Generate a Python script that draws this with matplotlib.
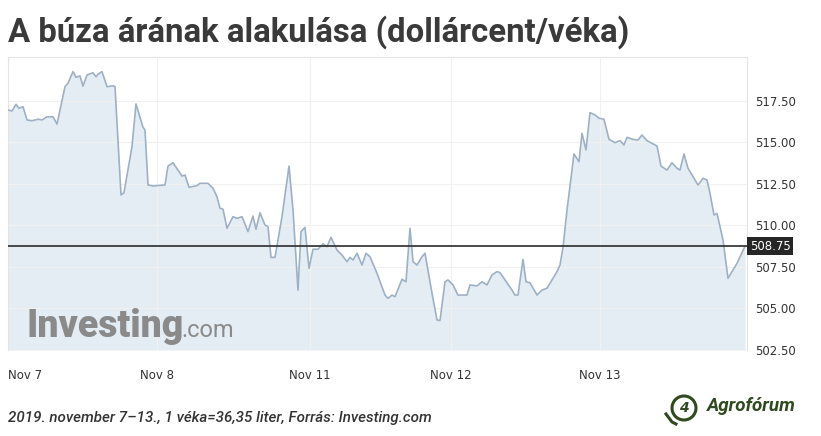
import matplotlib
matplotlib.use("Agg")
import matplotlib.pyplot as plt
import matplotlib.transforms as mtransforms
from matplotlib.patches import Ellipse

# ---- data ----
t_steps = [0, 4, 8, 11, 15, 19, 24, 30, 34, 39, 45, 49, 57, 60, 65, 68, 72, 75, 79, 85,
           88, 90, 94, 99, 105, 107, 113, 116, 124, 128, 135, 137, 140, 145, 157, 160, 165, 174, 177, 181,
           189, 192, 200, 205, 209, 212, 215, 219, 225, 229, 234, 240, 245, 248, 252, 257, 260, 263, 267, 274,
           281, 285, 290, 293, 297, 301, 305, 310, 315, 319, 323, 329, 334, 339, 342, 345, 349, 354, 358, 362,
           369, 377, 380, 384, 387, 394, 398, 402, 405, 409, 414, 417, 424, 429, 432, 437, 440, 445, 450, 459,
           462, 469, 474, 479, 484, 489, 492, 497, 504, 507, 510, 515, 518, 522, 529, 534, 539, 544, 549, 552,
           555, 559, 566, 571, 574, 578, 582, 587, 591, 596, 601, 607, 612, 616, 619, 625, 630, 634, 639, 644,
           649, 653, 659, 664, 669, 672, 676, 680, 686, 690, 695, 699, 702, 706, 709, 715, 720, 729, 737]
prices = [516.96, 516.90, 517.30, 517.06, 517.16, 516.36, 516.31, 516.40, 516.36, 516.55, 516.55, 516.11, 518.36, 518.57, 519.27, 518.93, 519.01, 518.40, 519.07, 519.20,
          518.96, 519.11, 519.27, 518.36, 518.42, 518.36, 511.84, 511.98, 514.75, 517.32, 515.92, 515.75, 512.44, 512.38, 512.44, 513.58, 513.78, 512.98, 513.04, 512.30,
          512.40, 512.54, 512.54, 512.24, 511.73, 511.04, 510.98, 509.83, 510.53, 510.43, 510.53, 509.63, 510.57, 509.77, 510.77, 510.03, 509.93, 508.08, 508.08, 510.53,
          513.58, 510.93, 506.11, 509.63, 509.89, 507.42, 508.57, 508.57, 508.89, 508.72, 509.29, 508.52, 508.22, 507.82, 508.08, 507.92, 508.33, 507.62, 508.33, 508.12,
          507.12, 505.81, 505.61, 505.81, 505.71, 506.76, 506.61, 509.83, 507.82, 507.62, 508.12, 508.33, 505.92, 504.31, 504.27, 506.61, 506.72, 506.42, 505.81, 505.81,
          506.42, 506.36, 506.61, 506.42, 507.02, 507.22, 507.16, 506.72, 506.11, 505.81, 505.81, 507.96, 506.61, 506.55, 505.81, 506.11, 506.22, 506.72, 507.22, 507.62,
          508.67, 510.93, 514.31, 513.84, 515.55, 514.55, 516.80, 516.66, 516.46, 516.40, 515.19, 514.99, 515.11, 514.85, 515.31, 515.19, 515.15, 515.45, 515.11, 514.95,
          514.79, 513.58, 513.34, 513.78, 513.45, 513.34, 514.31, 513.45, 512.84, 512.44, 512.84, 512.74, 511.94, 510.63, 510.73, 509.13, 506.82, 507.72, 508.75]
day_ticks = [0, 149, 302, 443, 592]
day_labels = ["Nov 7", "Nov 8", "Nov 11", "Nov 12", "Nov 13"]
y_ticks = [502.5, 505.0, 507.5, 510.0, 512.5, 515.0, 517.5]
last_price = 508.75

title = "A búza árának alakulása (dollárcent/véka)"
footer = "2019. november 7\u201313., 1 véka=36,35 liter, Forrás: Investing.com"

# ---- figure ----
W, H = 821, 436
fig = plt.figure(figsize=(W / 100, H / 100), dpi=100)
fig.patch.set_facecolor("white")
ax = fig.add_axes([8 / W, 1 - 350 / H, (747 - 8) / W, (350 - 57) / H])

ax.fill_between(t_steps, prices, 502.5, color="#e5edf4", lw=0, zorder=1)
ax.plot(t_steps, prices, color="#9db1c5", lw=1.2, zorder=3)
ax.axhline(last_price, color="#3a3a3a", lw=1.3, zorder=4)

ax.set_xlim(0, 739)
ax.set_ylim(502.5, 520.15)
ax.set_yticks(y_ticks)
ax.set_yticklabels([f"{v:.2f}" for v in y_ticks])
ax.yaxis.tick_right()
ax.set_xticks(day_ticks)
ax.set_xticklabels(day_labels)
ax.tick_params(axis="both", length=0, labelsize=8.5, colors="#333333")
ax.tick_params(axis="y", pad=6)
ax.tick_params(axis="x", pad=14)
ax.get_xticklabels()[0].set_horizontalalignment("left")
for lab in ax.get_xticklabels() + ax.get_yticklabels():
    lab.set_fontfamily("DejaVu Sans")

ax.grid(True, color="#f1f1f1", lw=0.8, zorder=0)
for s in ["top", "left", "right"]:
    ax.spines[s].set_color("#e4e4e4")
    ax.spines[s].set_linewidth(0.8)
ax.spines["bottom"].set_visible(False)

# last price label
trans = mtransforms.blended_transform_factory(ax.transAxes, ax.transData)
ax.text(1.004, last_price, f"{last_price:.2f}", transform=trans, ha="left", va="center",
        fontsize=8.5, color="white", zorder=6, clip_on=False,
        bbox=dict(boxstyle="square,pad=0.22", fc="#262626", ec="none"))

# watermark
ax.text(0.025, 0.045, "Investing", transform=ax.transAxes, fontsize=27, fontweight="black",
        color="#8a8a8a", family="Roboto", ha="left", va="baseline", zorder=2)
ax.text(0.235, 0.045, ".com", transform=ax.transAxes, fontsize=17,
        color="#8a8a8a", family="Roboto", ha="left", va="baseline", zorder=2)

# title
fig.text(8 / W, 1 - 42 / H, title, fontsize=23.7, fontweight="bold", color="#3a3a3a",
         family="Roboto", ha="left", va="baseline")

# footer
fig.text(8 / W, 1 - 422 / H, footer, fontsize=10.9, fontstyle="italic", fontweight="medium",
         color="#333333", family="Roboto", ha="left", va="baseline")

# Agroforum logo
fig.text(707 / W, 1 - 411 / H, "Agrofórum", fontsize=13.5, fontstyle="italic", fontweight="bold",
         color="#2f4a1f", family="Roboto", ha="left", va="baseline")
lax = fig.add_axes([660 / W, 1 - 428 / H, 45 / W, 36 / H])
lax.set_xlim(0, 45)
lax.set_ylim(0, 36)
lax.axis("off")
lax.add_patch(Ellipse((24, 20), 24, 24, angle=0, fill=False, ec="#2f4a1f", lw=2.2))
lax.plot([6, 12, 16], [14, 6, 4], color="#2f4a1f", lw=2.2)
lax.text(24, 20, "4", ha="center", va="center", fontsize=10, fontweight="bold",
         fontstyle="italic", color="#2f4a1f")

fig.savefig("out.png", dpi=100, facecolor="white")
